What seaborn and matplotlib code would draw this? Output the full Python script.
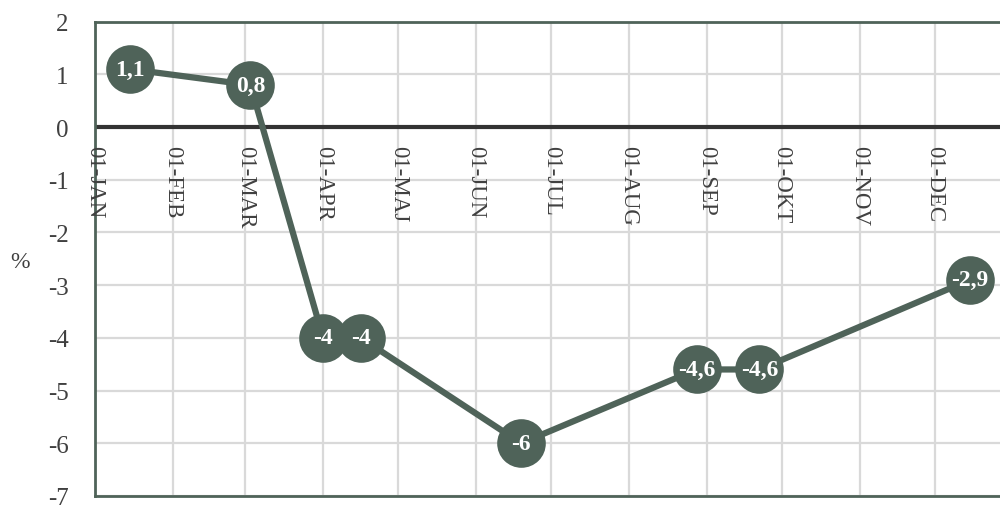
import matplotlib
matplotlib.use("Agg")
import matplotlib.pyplot as plt
import seaborn as sns
import pandas as pd

# Data
dates = ["2020-01-15", "2020-03-03", "2020-04-01", "2020-04-16",
         "2020-06-19", "2020-08-28", "2020-09-22", "2020-12-15"]
values = [1.1, 0.8, -4.0, -4.0, -6.0, -4.6, -4.6, -2.9]
labels = ["1,1", "0,8", "-4", "-4", "-6", "-4,6", "-4,6", "-2,9"]
month_ticks = ["01-JAN", "01-FEB", "01-MAR", "01-APR", "01-MAJ", "01-JUN",
               "01-JUL", "01-AUG", "01-SEP", "01-OKT", "01-NOV", "01-DEC"]
y_ticks = [2, 1, 0, -1, -2, -3, -4, -5, -6, -7]

df = pd.DataFrame({"date": pd.to_datetime(dates), "value": values})

sns.set_theme(style="white")
plt.rcParams['font.family'] = ['Liberation Serif', 'DejaVu Serif']

green = "#4f6359"
txt = "#404040"

fig = plt.figure(figsize=(10, 5.06), dpi=100)
ax = fig.add_axes([0.095, 0.018, 0.905, 0.937])

sns.lineplot(data=df, x="date", y="value", ax=ax, color=green, linewidth=4.5,
             marker="o", markersize=35, markeredgewidth=0, zorder=5)

for d, v, l in zip(df["date"], values, labels):
    ax.text(d, v, l, ha="center", va="center", color="white", fontsize=17,
            fontweight="bold", zorder=6)

tick_dates = pd.date_range("2020-01-01", periods=12, freq="MS")
ax.set_xticks(tick_dates)
ax.set_xticklabels([])
ax.tick_params(axis="x", length=0)
for d, t in zip(tick_dates, month_ticks):
    ax.text(d, -0.33, t, rotation=270, ha="center", va="top", fontsize=16.5,
            color=txt, zorder=3)

ax.set_xlim(pd.Timestamp("2020-01-01"), pd.Timestamp("2020-12-27"))
ax.set_ylim(-7, 2)
ax.set_yticks(y_ticks)
ax.set_yticklabels([str(t) for t in y_ticks], fontsize=18, color=txt)
ax.tick_params(axis="y", length=0, pad=19)

ax.grid(True, color="#d9d9d9", linewidth=1.6, zorder=0)
ax.axhline(0, color="#333333", linewidth=3, zorder=2)

for s in ["left", "top", "bottom"]:
    ax.spines[s].set_color(green)
    ax.spines[s].set_linewidth(2)
ax.spines["right"].set_visible(False)

ax.set_xlabel("")
ax.set_ylabel("%", rotation=0, fontsize=17, color=txt, va="center", ha="center")
ax.yaxis.set_label_coords(-0.083, 0.495)

fig.savefig("out.png", dpi=100)
